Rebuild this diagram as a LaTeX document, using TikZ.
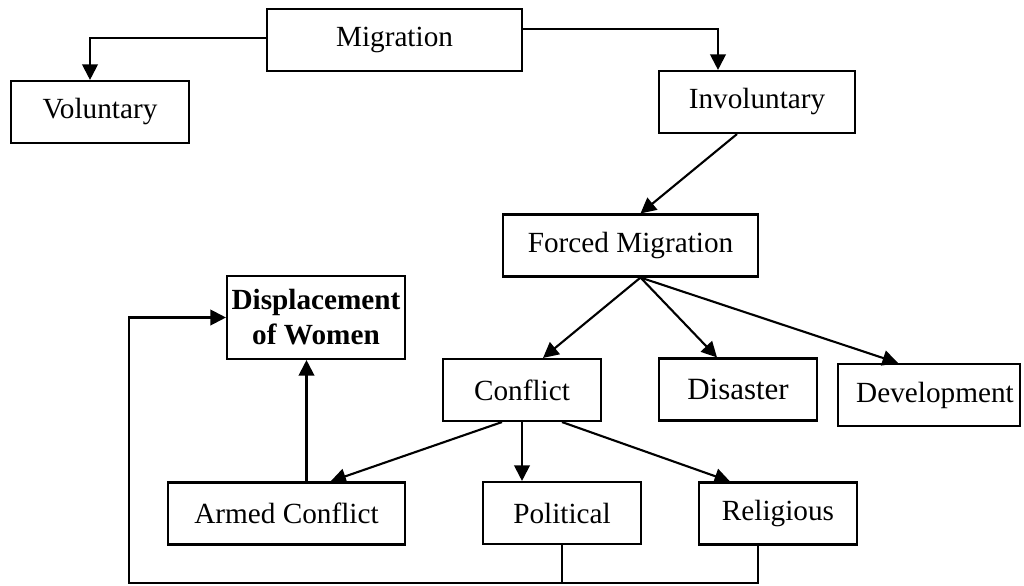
\documentclass[tikz,border=0pt]{standalone}
\usepackage{fontspec}
\setmainfont{Liberation Serif}
\usepackage{tikz}
\usetikzlibrary{arrows.meta}
\usetikzlibrary{calc}
\usetikzlibrary{positioning}

\begin{document}
\begin{tikzpicture}[->,>={Triangle[length=11pt,width=11pt]},line width=1.5pt]
				 \tikzstyle{box}=[draw=black, fill=white, text=black, rectangle, inner sep=0pt, minimum height=1.55cm, font=\fontsize{20.8}{25}\selectfont]
				 \useasboundingbox (0,0) rectangle (25.6,14.625);
 					 \node[box, minimum width=6.375cm]	(mig)    at (9.8625,13.625)   {Migration};
  					 \node[box, minimum width=4.45cm]	(vol)    at (2.5,11.825)     {Voluntary\hspace{0.4cm}};
  					 \node[box, minimum width=4.9cm]	(inv)    at (18.925,12.075)  {Involuntary\hspace{0.4cm}};
  					 \node[box, minimum width=6.375cm]	(forced) at (15.7625,8.4875) {Forced Migration};
					\node[box, minimum width=4.45cm, minimum height=2.075cm, align=center, font=\fontsize{20.8}{25}\selectfont\bfseries]
					                                    (disp)   at (7.9,6.6875)     {Displacement\\of Women};
					\node[box, minimum width=3.95cm]	(confl)  at (13.05,4.875)    {Conflict};
					\node[box, minimum width=3.95cm, font=\fontsize{22}{26}\selectfont]
					                                    (disas)  at (18.45,4.8875)   {Disaster};
  					 \node[box, minimum width=4.55cm]	(devel)  at (23.225,4.75)    {\hspace{0.3cm}Development};
  					 \node[box, minimum width=5.925cm]	(armed)  at (7.1625,1.7875)  {Armed Conflict};
  					 \node[box, minimum width=3.95cm]	(polit)  at (14.05,1.8)      {Political};
  					 \node[box, minimum width=3.95cm]	(relig)  at (19.45,1.7875)   {Religious};
					\coordinate (loop) at (3.225,0.06);
					 % top branches
					 \draw ([yshift=0.05cm]mig.west) -| ([xshift=-0.25cm]vol.north);
					 \draw ([yshift=0.275cm]mig.east) -| ([xshift=-0.975cm]inv.north);
					 \draw ([xshift=-0.5cm]inv.south) -- ([xshift=0.25cm]forced.north);
					 % forced migration
					 \draw ([xshift=0.25cm]forced.south) -- ([xshift=0.525cm]confl.north);
					 \draw ([xshift=0.25cm]forced.south) -- ([xshift=-0.525cm]disas.north);
					 \draw ([xshift=0.25cm]forced.south) -- ([xshift=-0.775cm]devel.north);
					 % conflict
					 \draw ([xshift=-0.5cm]confl.south) -- ([xshift=1.1cm]armed.north);
					 \draw (confl.south) -- (confl.south |- polit.north);
					 \draw ([xshift=1cm]confl.south) -- ([xshift=-1.2cm]relig.north);
					 \draw ([xshift=0.5cm]armed.north) -- ([xshift=0.5cm]armed.north |- disp.south);
					 % feedback to displacement
					 \draw[-] (polit.south) -- (polit.south |- loop);
					 \draw ([xshift=-0.5cm]relig.south) |- (loop) |- (disp.west);
				\end{tikzpicture}
\end{document}
